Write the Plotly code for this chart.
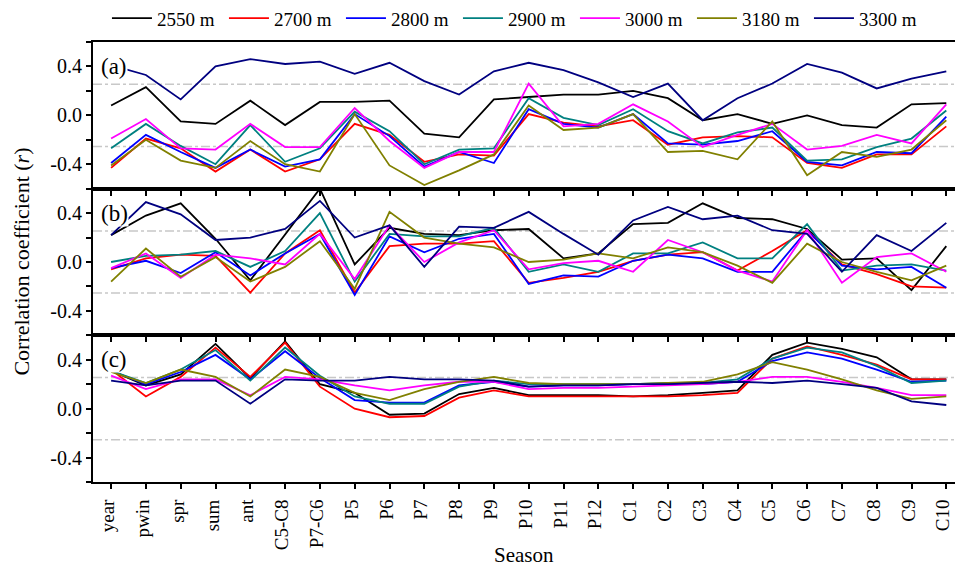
import plotly.graph_objects as go
from plotly.subplots import make_subplots

seasons = ["year", "pwin", "spr", "sum", "ant", "C5-C8", "P7-C6", "P5", "P6", "P7", "P8", "P9",
           "P10", "P11", "P12", "C1", "C2", "C3", "C4", "C5", "C6", "C7", "C8", "C9", "C10"]

series_names = ["2550 m", "2700 m", "2800 m", "2900 m", "3000 m", "3180 m", "3300 m"]
series_colors = ["#000000", "#FF0000", "#0000FF", "#008080", "#FF00FF", "#808000", "#000080"]

# Panel (a)
a_2550 = [0.08, 0.23, -0.05, -0.07, 0.12, -0.08, 0.11, 0.11, 0.12, -0.15, -0.18, 0.13, 0.15, 0.17, 0.17, 0.20, 0.14, -0.04, 0.01, -0.07, 0.00, -0.08, -0.10, 0.09, 0.10]
a_2700 = [-0.43, -0.19, -0.27, -0.46, -0.28, -0.46, -0.36, -0.07, -0.16, -0.38, -0.32, -0.33, 0.01, -0.06, -0.09, -0.04, -0.24, -0.18, -0.17, -0.18, -0.39, -0.43, -0.32, -0.32, -0.09]
a_2800 = [-0.39, -0.16, -0.30, -0.43, -0.28, -0.42, -0.36, 0.01, -0.17, -0.42, -0.30, -0.39, 0.05, -0.07, -0.10, 0.01, -0.23, -0.24, -0.21, -0.13, -0.38, -0.41, -0.30, -0.31, -0.01]
a_2900 = [-0.27, -0.07, -0.25, -0.40, -0.08, -0.38, -0.27, 0.03, -0.13, -0.40, -0.28, -0.27, 0.14, -0.02, -0.08, 0.05, -0.13, -0.23, -0.14, -0.10, -0.37, -0.36, -0.26, -0.19, 0.04]
a_3000 = [-0.19, -0.03, -0.27, -0.28, -0.07, -0.26, -0.26, 0.06, -0.21, -0.43, -0.30, -0.30, 0.26, -0.09, -0.07, 0.09, -0.05, -0.26, -0.16, -0.07, -0.28, -0.25, -0.16, -0.23, 0.09]
a_3180 = [-0.41, -0.20, -0.37, -0.43, -0.21, -0.40, -0.46, 0.01, -0.41, -0.57, -0.45, -0.32, 0.08, -0.12, -0.10, 0.01, -0.30, -0.29, -0.36, -0.05, -0.49, -0.30, -0.34, -0.28, -0.04]
a_3300 = [0.41, 0.33, 0.13, 0.40, 0.46, 0.42, 0.44, 0.34, 0.43, 0.28, 0.17, 0.36, 0.43, 0.37, 0.27, 0.15, 0.26, -0.04, 0.14, 0.26, 0.42, 0.35, 0.22, 0.30, 0.36]

# Panel (b)
b_2550 = [0.22, 0.38, 0.48, 0.19, -0.15, 0.23, 0.60, -0.02, 0.28, 0.23, 0.22, 0.26, 0.27, 0.03, 0.07, 0.31, 0.32, 0.48, 0.36, 0.35, 0.27, 0.02, 0.03, -0.23, 0.13]
b_2700 = [-0.06, 0.03, 0.06, 0.05, -0.25, 0.07, 0.26, -0.25, 0.13, 0.15, 0.15, 0.17, -0.17, -0.13, -0.08, 0.01, 0.06, 0.08, -0.07, 0.09, 0.26, -0.02, -0.10, -0.20, -0.21]
b_2800 = [-0.05, 0.01, -0.09, 0.08, -0.11, 0.07, 0.23, -0.27, 0.21, 0.08, 0.19, 0.23, -0.18, -0.11, -0.12, 0.01, 0.06, 0.03, -0.08, -0.08, 0.26, -0.03, -0.06, -0.04, -0.21]
b_2900 = [0.00, 0.05, 0.06, 0.09, -0.04, 0.09, 0.40, -0.16, 0.23, 0.21, 0.21, 0.28, -0.08, -0.02, -0.08, 0.07, 0.07, 0.16, 0.03, 0.03, 0.31, -0.07, -0.03, -0.02, -0.07]
b_3000 = [-0.05, 0.07, -0.13, 0.06, 0.03, -0.02, 0.23, -0.14, 0.30, 0.00, 0.16, 0.26, -0.06, -0.01, 0.01, -0.08, 0.18, 0.08, -0.07, -0.16, 0.26, -0.17, 0.04, 0.07, -0.08]
b_3180 = [-0.16, 0.11, -0.12, 0.04, -0.16, -0.04, 0.17, -0.22, 0.41, 0.20, 0.15, 0.12, 0.00, 0.02, 0.07, 0.03, 0.12, 0.08, -0.03, -0.17, 0.15, 0.00, -0.08, -0.15, -0.03]
b_3300 = [0.22, 0.49, 0.39, 0.18, 0.20, 0.27, 0.50, 0.20, 0.30, -0.04, 0.29, 0.28, 0.41, 0.23, 0.06, 0.34, 0.45, 0.35, 0.38, 0.26, 0.23, -0.08, 0.22, 0.09, 0.32]

# Panel (c)
c_2550 = [0.31, 0.19, 0.28, 0.53, 0.25, 0.55, 0.20, 0.13, -0.05, -0.04, 0.12, 0.17, 0.11, 0.11, 0.11, 0.10, 0.11, 0.13, 0.15, 0.44, 0.54, 0.49, 0.42, 0.24, 0.24]
c_2700 = [0.32, 0.10, 0.26, 0.50, 0.26, 0.54, 0.18, 0.00, -0.07, -0.06, 0.09, 0.15, 0.10, 0.10, 0.10, 0.10, 0.10, 0.11, 0.13, 0.41, 0.51, 0.44, 0.36, 0.24, 0.24]
c_2800 = [0.31, 0.20, 0.30, 0.44, 0.24, 0.47, 0.25, 0.07, 0.05, 0.05, 0.19, 0.22, 0.18, 0.19, 0.19, 0.20, 0.20, 0.20, 0.22, 0.39, 0.46, 0.41, 0.32, 0.22, 0.23]
c_2900 = [0.31, 0.21, 0.32, 0.48, 0.23, 0.50, 0.27, 0.10, 0.04, 0.04, 0.18, 0.23, 0.20, 0.20, 0.20, 0.20, 0.21, 0.21, 0.24, 0.41, 0.50, 0.46, 0.35, 0.21, 0.23]
c_3000 = [0.27, 0.16, 0.24, 0.24, 0.11, 0.26, 0.24, 0.19, 0.15, 0.19, 0.22, 0.22, 0.16, 0.17, 0.17, 0.18, 0.19, 0.20, 0.22, 0.26, 0.26, 0.22, 0.17, 0.11, 0.11]
c_3180 = [0.30, 0.21, 0.32, 0.26, 0.10, 0.32, 0.26, 0.13, 0.07, 0.16, 0.22, 0.26, 0.21, 0.20, 0.20, 0.20, 0.21, 0.22, 0.28, 0.38, 0.32, 0.24, 0.15, 0.08, 0.10]
c_3300 = [0.23, 0.19, 0.23, 0.23, 0.04, 0.24, 0.23, 0.23, 0.26, 0.24, 0.24, 0.23, 0.18, 0.19, 0.19, 0.20, 0.20, 0.21, 0.22, 0.21, 0.23, 0.20, 0.17, 0.06, 0.03]

panel_labels = ["(a)", "(b)", "(c)"]
significance = 0.254

panels = [
    [a_2550, a_2700, a_2800, a_2900, a_3000, a_3180, a_3300],
    [b_2550, b_2700, b_2800, b_2900, b_3000, b_3180, b_3300],
    [c_2550, c_2700, c_2800, c_2900, c_3000, c_3180, c_3300],
]

FONT = "Liberation Serif, Times New Roman, serif"

fig = make_subplots(rows=3, cols=1, shared_xaxes=True, vertical_spacing=0)

for r, panel in enumerate(panels, start=1):
    for name, color, vals in zip(series_names, series_colors, panel):
        fig.add_trace(go.Scatter(x=seasons, y=vals, mode="lines", name=name,
                                 line=dict(color=color, width=1.8),
                                 showlegend=(r == 1)), row=r, col=1)
    for sgn in (1, -1):
        fig.add_shape(type="line", xref="paper", x0=0, x1=1,
                      yref=f"y{'' if r == 1 else r}", y0=sgn * significance, y1=sgn * significance,
                      line=dict(color="#C8C8C8", width=1.5, dash="dashdot"), layer="below")
    fig.add_annotation(text=panel_labels[r - 1], xref="paper", x=0.008, xanchor="left",
                       yref=f"y{'' if r == 1 else r}", y=0.4, yanchor="middle",
                       showarrow=False, bgcolor="white", borderpad=0,
                       font=dict(family=FONT, size=23, color="black"))

for r in range(1, 4):
    fig.update_xaxes(row=r, col=1, type="category", categoryorder="array", categoryarray=seasons,
                     range=[-0.52, 24.25], showline=True, linecolor="black", linewidth=2,
                     mirror=True, ticks="outside", ticklen=5, tickwidth=1.5, tickcolor="black",
                     showgrid=False, zeroline=False,
                     showticklabels=(r == 3), tickangle=-90, ticklabelshift=-3,
                     ticklabelstandoff=3,
                     tickfont=dict(family=FONT, size=19, color="black"))
    fig.update_yaxes(row=r, col=1, range=[-0.6, 0.6], showline=True, linecolor="black", linewidth=2,
                     mirror=False, ticks="outside", ticklen=5, tickwidth=1.5, tickcolor="black",
                     tickvals=[-0.6, -0.4, -0.2, 0.0, 0.2, 0.4, 0.6],
                     ticktext=["", "-0.4", "", "0.0", "", "0.4", ""],
                     showgrid=False, zeroline=False,
                     tickfont=dict(family=FONT, size=20, color="black"))

fig.add_annotation(text="Correlation coefficient (<i>r</i>)", xref="paper", x=-0.084, xanchor="center",
                   yref="paper", y=0.5, yanchor="middle", textangle=-90, showarrow=False,
                   font=dict(family=FONT, size=22, color="black"))
fig.add_annotation(text="Season", xref="paper", x=0.5, xanchor="center",
                   yref="paper", y=-0.167, yanchor="middle", showarrow=False,
                   font=dict(family=FONT, size=21, color="black"))

fig.update_layout(
    width=955, height=574,
    margin=dict(l=93, r=0, t=42, b=92, autoexpand=False),
    plot_bgcolor="white", paper_bgcolor="white",
    font=dict(family=FONT, color="black"),
    legend=dict(orientation="h", xref="container", x=0.112, yref="container", y=0.968,
                xanchor="left", yanchor="middle", entrywidth=62, entrywidthmode="pixels",
                font=dict(family=FONT, size=19, color="black"), bgcolor="rgba(0,0,0,0)",
                itemwidth=40, tracegroupgap=0),
)

fig.write_html("out.html", config={"displayModeBar": False},
               post_script="document.body.style.margin='0';document.body.style.padding='0';")
